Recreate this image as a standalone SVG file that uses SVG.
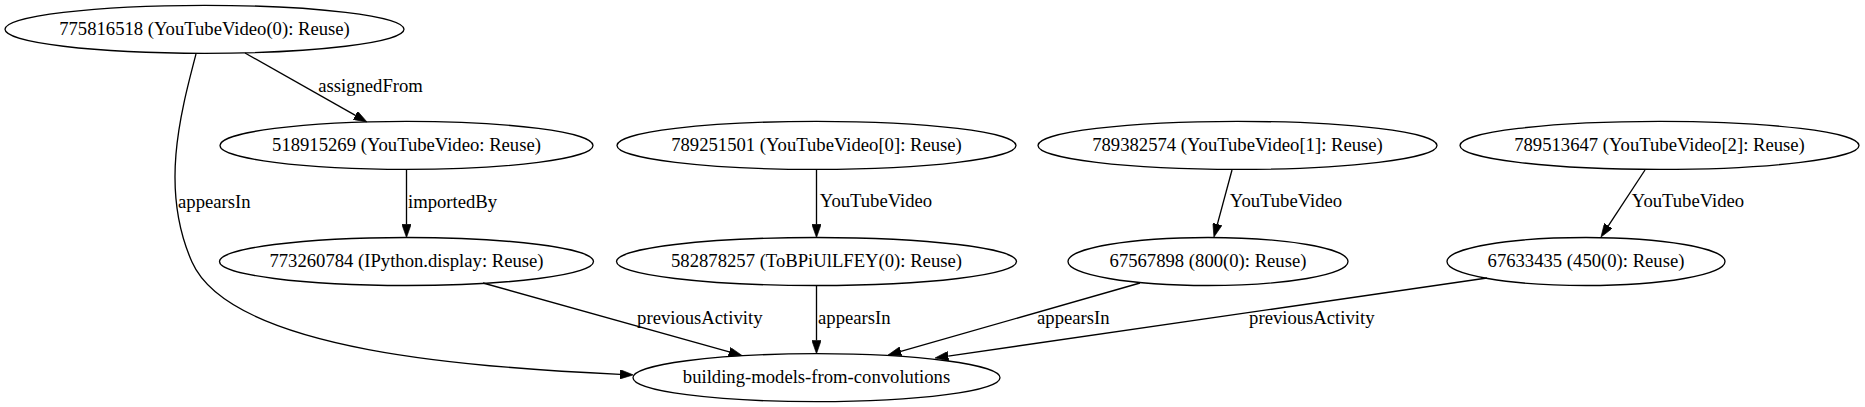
<svg xmlns="http://www.w3.org/2000/svg" width="1865" height="407" viewBox="0 0 1865 407">
<style>
  .node ellipse { fill: none; stroke: #000; stroke-width: 1.33; }
  .node text, .edge text { font-family: "Liberation Serif", "Times New Roman", serif; font-size: 18.67px; fill: #000; text-anchor: middle; }
  .edge path { fill: none; stroke: #000; stroke-width: 1.33; marker-end: url(#arrow); }
</style>
<defs>
  <marker id="arrow" viewBox="0 0 10 7" refX="0" refY="3.5" markerUnits="userSpaceOnUse" markerWidth="13.3" markerHeight="9.3" orient="auto">
    <path d="M0,0 L10,3.5 L0,7 z" fill="#000" stroke="#000" stroke-width="0.5"/>
  </marker>
</defs>
<rect width="1865" height="407" fill="#fff"/>

<g id="edges">
  <g class="edge" id="e_A_B">
    <path d="M245,53 L355.4,115.4"/>
    <text x="370.5" y="92">assignedFrom</text>
  </g>
  <g class="edge" id="e_A_J">
    <path d="M196,54 C180,115 160,190 192,262 C232,352 480,368 620,374.3"/>
    <text x="214.3" y="208">appearsIn</text>
  </g>
  <g class="edge" id="e_B_C">
    <path d="M406.5,169.4 L406.5,224.3"/>
    <text x="452.6" y="208">importedBy</text>
  </g>
  <g class="edge" id="e_C_J">
    <path d="M483,283 L729.2,351.9"/>
    <text x="699.8" y="324">previousActivity</text>
  </g>
  <g class="edge" id="e_D_E">
    <path d="M816.5,169.4 L816.5,224.3"/>
    <text x="876" y="207">YouTubeVideo</text>
  </g>
  <g class="edge" id="e_E_J">
    <path d="M816.5,285.5 L816.5,340.4"/>
    <text x="854.3" y="324">appearsIn</text>
  </g>
  <g class="edge" id="e_F_G">
    <path d="M1232,170 L1217.4,224.2"/>
    <text x="1286" y="207">YouTubeVideo</text>
  </g>
  <g class="edge" id="e_G_J">
    <path d="M1140,283 L900.8,351.4"/>
    <text x="1073.3" y="324">appearsIn</text>
  </g>
  <g class="edge" id="e_H_I">
    <path d="M1645,170 L1608.3,225.9"/>
    <text x="1688" y="207">YouTubeVideo</text>
  </g>
  <g class="edge" id="e_I_J">
    <path d="M1487,278 L948.2,356.1"/>
    <text x="1311.8" y="324">previousActivity</text>
  </g>
</g>

<g class="node" id="n775816518">
  <ellipse cx="204.5" cy="29.3" rx="199.5" ry="24"/>
  <text x="204.5" y="34.9">775816518 (YouTubeVideo(0): Reuse)</text>
</g>
<g class="node" id="n518915269">
  <ellipse cx="406.5" cy="145.4" rx="186.5" ry="24"/>
  <text x="406.5" y="151">518915269 (YouTubeVideo: Reuse)</text>
</g>
<g class="node" id="n773260784">
  <ellipse cx="406.5" cy="261.5" rx="187" ry="24"/>
  <text x="406.5" y="267.1">773260784 (IPython.display: Reuse)</text>
</g>
<g class="node" id="n789251501">
  <ellipse cx="816.5" cy="145.4" rx="199.5" ry="24"/>
  <text x="816.5" y="151">789251501 (YouTubeVideo[0]: Reuse)</text>
</g>
<g class="node" id="n582878257">
  <ellipse cx="816.5" cy="261.5" rx="200" ry="24"/>
  <text x="816.5" y="267.1">582878257 (ToBPiUlLFEY(0): Reuse)</text>
</g>
<g class="node" id="n789382574">
  <ellipse cx="1237.5" cy="145.4" rx="199.5" ry="24"/>
  <text x="1237.5" y="151">789382574 (YouTubeVideo[1]: Reuse)</text>
</g>
<g class="node" id="n67567898">
  <ellipse cx="1208" cy="261.5" rx="140" ry="24"/>
  <text x="1208" y="267.1">67567898 (800(0): Reuse)</text>
</g>
<g class="node" id="n789513647">
  <ellipse cx="1659.5" cy="145.4" rx="199.5" ry="24"/>
  <text x="1659.5" y="151">789513647 (YouTubeVideo[2]: Reuse)</text>
</g>
<g class="node" id="n67633435">
  <ellipse cx="1586" cy="261.5" rx="139" ry="24"/>
  <text x="1586" y="267.1">67633435 (450(0): Reuse)</text>
</g>
<g class="node" id="building-models-from-convolutions">
  <ellipse cx="816.5" cy="377.7" rx="183.5" ry="24"/>
  <text x="816.5" y="383.3">building-models-from-convolutions</text>
</g>
</svg>
